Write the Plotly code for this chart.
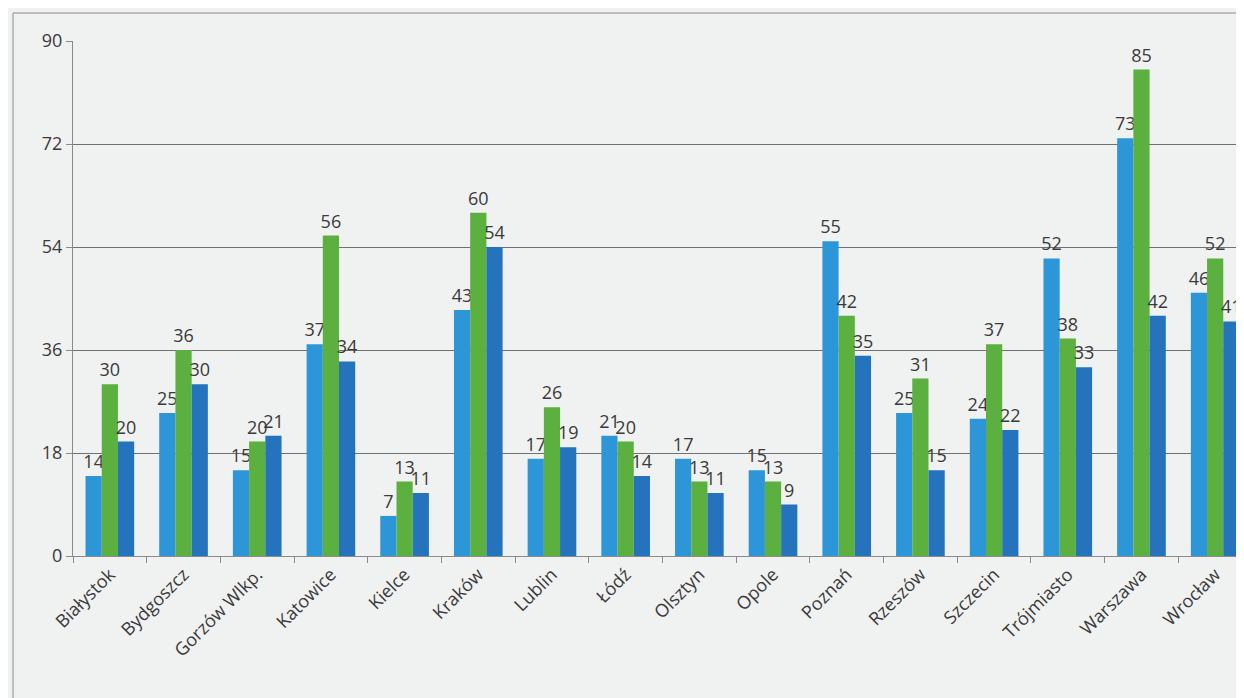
import plotly.graph_objects as go

CITIES = ["Białystok", "Bydgoszcz", "Gorzów Wlkp.", "Katowice", "Kielce", "Kraków",
          "Lublin", "Łódź", "Olsztyn", "Opole", "Poznań", "Rzeszów", "Szczecin",
          "Trójmiasto", "Warszawa", "Wrocław"]
SERIES_1 = [14, 25, 15, 37, 7, 43, 17, 21, 17, 15, 55, 25, 24, 52, 73, 46]
SERIES_2 = [30, 36, 20, 56, 13, 60, 26, 20, 13, 13, 42, 31, 37, 38, 85, 52]
SERIES_3 = [20, 30, 21, 34, 11, 54, 19, 14, 11, 9, 35, 15, 22, 33, 42, 41]
Y_TICKS = [0, 18, 36, 54, 72, 90]

COLORS = ["#2d96d8", "#5bb040", "#2572bd"]
TEXT = "#3a3a3a"
BG = "#f0f1f1"

# plot area in figure pixels
L, T, B = 65, 33, 150
PW, PH = 1244 - L, 698 - T - B

fig = go.Figure()
for vals, color in zip([SERIES_1, SERIES_2, SERIES_3], COLORS):
    fig.add_bar(
        x=CITIES, y=vals, marker_color=color, marker_line_width=0,
        text=vals, textposition="outside", constraintext="none", cliponaxis=False,
        textfont={"size": 18, "color": TEXT, "family": "Open Sans, sans-serif"},
    )

fig.update_layout(
    width=1244, height=698,
    paper_bgcolor=BG, plot_bgcolor=BG,
    showlegend=False,
    barmode="group", bargap=0.34, bargroupgap=0,
    margin={"l": L, "r": 0, "t": T, "b": B},
    font={"family": "Open Sans, sans-serif", "color": TEXT},
    xaxis={
        "tickangle": -45, "tickfont": {"size": 18, "color": TEXT},
        "showline": True, "linecolor": "#8a8a8a", "linewidth": 1,
        "ticks": "outside", "tickson": "boundaries", "ticklen": 6, "tickcolor": "#8a8a8a",
        "showgrid": False,
    },
    yaxis={
        "range": [0, 90], "tickvals": Y_TICKS, "tickfont": {"size": 18, "color": TEXT},
        "showgrid": True, "gridcolor": "#6f7272", "gridwidth": 1,
        "showline": True, "linecolor": "#8a8a8a", "linewidth": 1,
        "ticks": "outside", "ticklen": 6, "tickcolor": "#8a8a8a",
        "zeroline": False,
    },
    shapes=[
        {"type": "line", "xref": "paper", "yref": "paper",
         "x0": -60 / PW, "x1": 1.0, "y0": 1 + 28 / PH, "y1": 1 + 28 / PH,
         "line": {"color": "#8a8a8a", "width": 1}},
        {"type": "line", "xref": "paper", "yref": "paper",
         "x0": -60 / PW, "x1": -60 / PW, "y0": -B / PH, "y1": 1 + 28 / PH,
         "line": {"color": "#8a8a8a", "width": 1}},
    ],
)

fig.write_html("out.html")
